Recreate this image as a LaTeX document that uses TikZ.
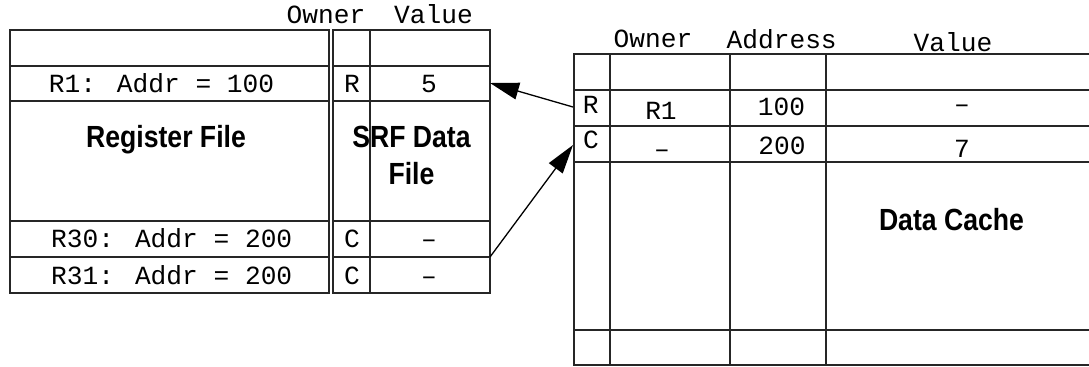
\documentclass[tikz,border=0pt]{standalone}
\usepackage{fontspec}
\newfontfamily\cellfont{Liberation Mono}
\newfontfamily\namefont[FakeStretch=0.87]{Liberation Sans}
\usetikzlibrary{arrows.meta,calc}

\tikzset{
  rf schemes/.style = {
    x = 0.5pt, y = -0.5pt,
    % Рамки таблиц
    frame/.style = { line width = 1pt, draw = black!85 },
    % Тексты в ячейках
    cell/.style  = { inner sep = 0, anchor = base,
                     font = \cellfont\fontsize{13.1}{15}\selectfont },
    title/.style = { inner sep = 0, anchor = base, align = center,
                     font = \namefont\bfseries\fontsize{15.3}{18.5}\selectfont },
    % Стрелки
    link line/.style = { line width = 0.65pt, black,
                         -{Triangle[length=14.5pt,width=8.5pt]} },
  }
}

\begin{document}
\begin{tikzpicture}[rf schemes]
\useasboundingbox (0,0) rectangle (1089,366);

% одна таблица: #1 -- имя, <левый,верх,правый,низ>
\def\tablebox(#1)<#2,#3,#4,#5>{
  \draw[frame] (#2,#3) rectangle (#4,#5);
  \path (#2,#3) coordinate (#1_nw) (#4,#5) coordinate (#1_se); }

%---------------------------------------------
% Register File
\tablebox(rf)<10,30,329,293>
\foreach \y in {66,101,221,257}
  \draw[frame] (10,\y) -- (329,\y);
\node[cell] (rf_r1)  at (161.5,92)  {R1: Addr = 100};
\node[cell] (rf_r30) at (171.7,247) {R30: Addr = 200};
\node[cell] (rf_r31) at (171.7,284) {R31: Addr = 200};
\node[title] (rf_name) at (166,147) {Register File};

%---------------------------------------------
% SRF Data File
\tablebox(srf)<333,30,490,293>
\draw[frame] (370,30) -- (370,293);
\foreach \y in {66,101,221,257}
  \draw[frame] (333,\y) -- (490,\y);
\node[cell] (srf_owner) at (326,23)   {Owner};
\node[cell] (srf_value) at (433.5,23) {Value};
\foreach \y/\o/\v [count=\n] in {92/R/5, 247/C/–, 284/C/–} {
  \node[cell] (srf_o\n) at (352,\y) {\o};
  \node[cell] (srf_v\n) at (429,\y) {\v};
}
% base -- по последней строке
\node[title] (srf_name) at (411.5,184) {SRF Data\\File};
\path (490,83) coordinate (srf_in) (490,257) coordinate (srf_out);

%---------------------------------------------
% Data Cache (справа обрезан краем)
\draw[frame] (1089,54) -- (574,54) -- (574,365) -- (1089,365);
\foreach \y in {90,126,162,330}
  \draw[frame] (574,\y) -- (1089,\y);
\foreach \x in {610,730,826}
  \draw[frame] (\x,54) -- (\x,365);
\node[cell] (dc_owner) at (653,47.5)  {Owner};
\node[cell] (dc_addr)  at (781.7,48)  {Address};
\node[cell] (dc_value) at (953,51)    {Value};
\node[cell] (dc_f1) at (590.7,113) {R};
\node[cell] (dc_o1) at (661,119)   {R1};
\node[cell] (dc_a1) at (781.5,115) {100};
\node[cell] (dc_v1) at (962,112.5) {–};
\node[cell] (dc_f2) at (591,148.3) {C};
\node[cell] (dc_o2) at (662,157)   {–};
\node[cell] (dc_a2) at (782,154)   {200};
\node[cell] (dc_v2) at (962,157.7) {7};
\node[title] (dc_name) at (951.5,230) {Data Cache};
\path (573,107) coordinate (dc_out) (573,145) coordinate (dc_in);

%---------------------------------------------
\draw[link line] (dc_out) -- (srf_in);
\draw[link line] (srf_out) -- (dc_in);
\end{tikzpicture}
\end{document}
